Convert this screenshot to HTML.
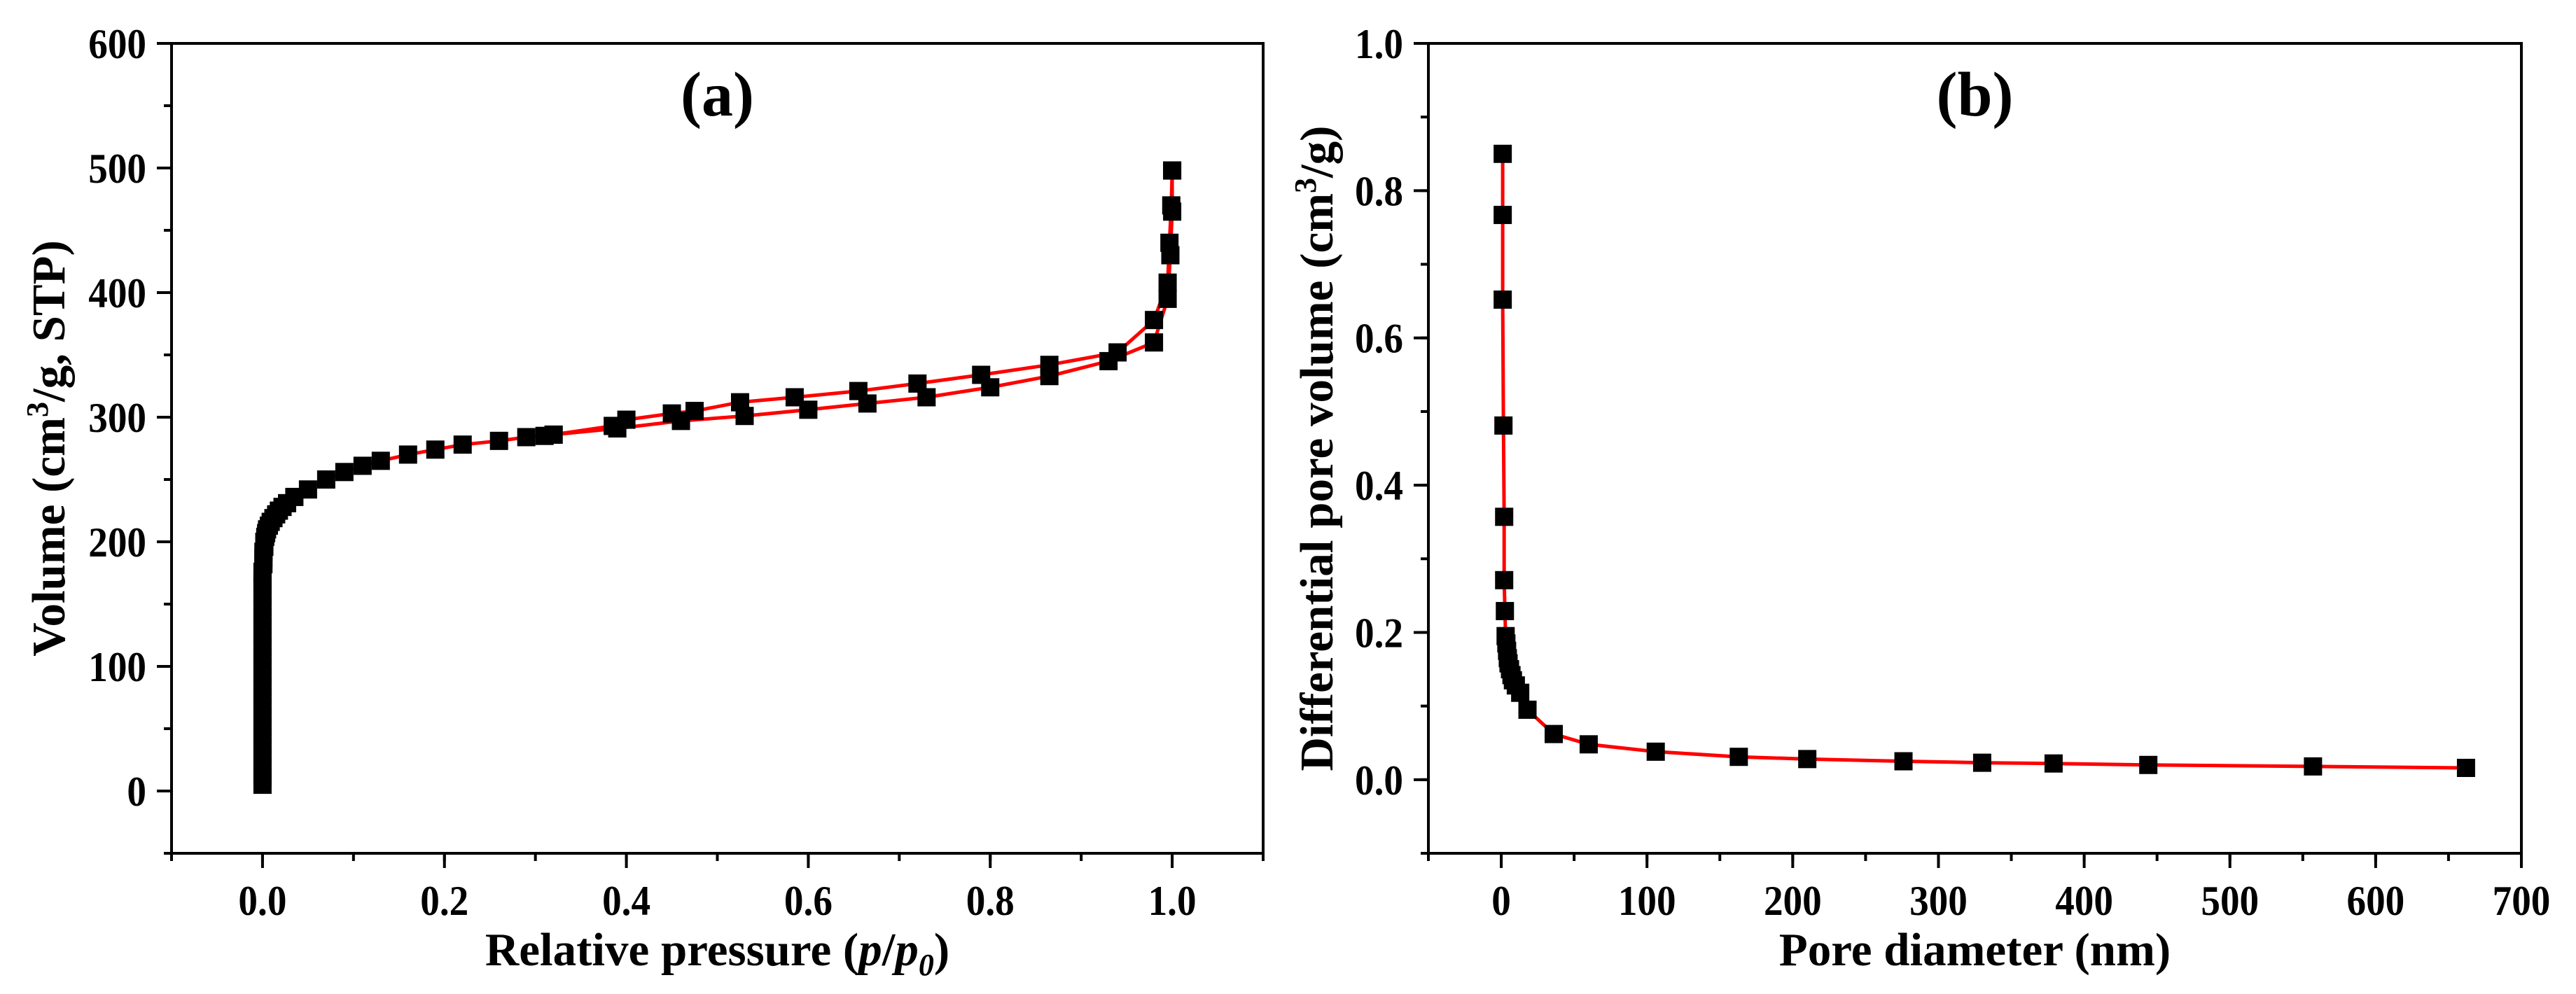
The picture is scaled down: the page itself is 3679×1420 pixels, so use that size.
<!DOCTYPE html>
<html><head><meta charset="utf-8"><style>
html,body{margin:0;padding:0;background:#fff;}
svg{display:block;font-family:"Liberation Serif",serif;font-weight:bold;}
</style></head><body>
<svg id="fig" width="3679" height="1420" viewBox="0 0 3679 1420" xmlns="http://www.w3.org/2000/svg"></svg>
<script>
// Panel (a) data
const adsX = [0,0,0,0,0,0,0,0,0,0,0,0,0,0,0,0,0,0,0,0,0,0,0,0.001,0.001,0.001,0.002,0.002,0.003,0.004,0.005,0.007,0.009,0.012,0.015,0.018,0.022,0.027,0.035,0.05,0.07,0.09,0.11,0.13,0.16,0.19,0.22,0.26,0.29,0.31,0.32,0.39,0.46,0.53,0.60,0.665,0.73,0.80,0.865,0.93,0.98,0.995,0.998,1.0,1.0];
const adsY = [5,12,20,28,36,44,52,60,68,76,84,92,100,108,116,124,132,140,148,156,164,170,176,182,187,192,196,200,204,207,210,213,216,219,222,225,228,231,236,242,250,256,261,265,270,274,278,281,284,285,286,291,297,301,306,311,316,324,333,345,360,395,430,465,498];
const desX = [1.0,0.999,0.997,0.995,0.98,0.94,0.865,0.79,0.72,0.655,0.585,0.525,0.475,0.45,0.40,0.385,0.32];
const desY = [498,470,440,408,378,352,342,334,327,321,316,312,305,303,298,293,286];
const aXTicks = [0,0.2,0.4,0.6,0.8,1.0];
const aXTickLabels = ["0.0","0.2","0.4","0.6","0.8","1.0"];
const aYTicks = [0,100,200,300,400,500,600];
// Panel (b) data
const bX = [1,1,1,1.5,2,2,2.5,3,3.5,4,4.5,5,6,7,8,10,13,18,36,60,106,163,210,276,330,379,444,557,662];
const bY = [0.850,0.767,0.652,0.481,0.357,0.271,0.229,0.195,0.185,0.175,0.165,0.158,0.150,0.142,0.135,0.128,0.118,0.095,0.062,0.048,0.038,0.031,0.028,0.025,0.023,0.022,0.020,0.018,0.016];
const bXTicks = [0,100,200,300,400,500,600,700];
const bYTicks = [0.0,0.2,0.4,0.6,0.8,1.0];
const bYTickLabels = ["0.0","0.2","0.4","0.6","0.8","1.0"];

const NS="http://www.w3.org/2000/svg";
const svg=document.getElementById('fig');
function el(tag,attrs,parent){const e=document.createElementNS(NS,tag);for(const k in attrs)e.setAttribute(k,attrs[k]);(parent||svg).appendChild(e);return e;}
function txt(parent,x,y,size,anchor,rot,sx){
  return el('text',{x:0,y:0,'font-size':size,'text-anchor':anchor,transform:`translate(${x} ${y}) rotate(${rot}) scale(${sx} 1)`},parent);
}

function panel(o){
  const g=el('g',{});
  
  
  const sx=v=>o.L+(v-o.x0)/(o.x1-o.x0)*(o.R-o.L);
  const sy=v=>o.B-(v-o.y0)/(o.y1-o.y0)*(o.B-o.T);
  for(let v=o.xmin0;v<=o.x1+1e-9;v+=o.xminStep){
    const t=el('line',{x1:sx(v),x2:sx(v),y1:o.B,y2:o.B+11,stroke:'#000','stroke-width':4},g);
    
  }
  for(let v=o.ymin0;v<=o.y1+1e-9;v+=o.yminStep){
    const t=el('line',{x1:o.L-11,x2:o.L,y1:sy(v),y2:sy(v),stroke:'#000','stroke-width':4},g);
    
  }
  o.xt.forEach((v,i)=>{
    const t=el('line',{x1:sx(v),x2:sx(v),y1:o.B,y2:o.B+21,stroke:'#000','stroke-width':4},g);
    
    const tx=txt(g,sx(v),o.B+88,60,'middle',0,0.92);
    tx.textContent=o.xl[i];
    
  });
  o.yt.forEach((v,i)=>{
    const t=el('line',{x1:o.L-21,x2:o.L,y1:sy(v),y2:sy(v),stroke:'#000','stroke-width':4},g);
    
    const tx=txt(g,o.L-36,sy(v)+21,60,'end',0,0.92);
    tx.textContent=o.yl[i];
    
  });
  const fr=el('rect',{x:o.L,y:o.T,width:o.R-o.L,height:o.B-o.T,fill:'none',stroke:'#000','stroke-width':4},g);
  
  o.series.forEach(s=>{
    const d=s.x.map((v,i)=>(i?'L':'M')+sx(v).toFixed(1)+' '+sy(s.y[i]).toFixed(1)).join(' ');
    const p=el('path',{d:d,fill:'none',stroke:'#ff0000','stroke-width':5},g);
    
  });
  o.series.forEach(s=>{
    s.x.forEach((v,i)=>{
      const m=el('rect',{x:sx(v)-13,y:sy(s.y[i])-13,width:26,height:26,fill:'#000'},g);
      
    });
  });
  const lab=txt(g,(o.L+o.R)/2,o.T+103,90,'middle',0,1);
  lab.textContent=o.label;
  const xt=txt(g,(o.L+o.R)/2,o.B+160,67,'middle',0,1);
  xt.innerHTML=o.xtitle;
  const cy=(o.T+o.B)/2;
  const yt=txt(g,o.ytx,cy,67,'middle',-90,1);
  yt.innerHTML=o.ytitle;
}

panel({name:'panel-a-isotherm',L:245,R:1804,T:62,B:1219,x0:-0.1,x1:1.1,y0:-50,y1:600,
  xmin0:-0.1,xminStep:0.1,ymin0:-50,yminStep:50,
  xt:aXTicks,xl:aXTickLabels,yt:aYTicks,yl:aYTicks.map(String),
  series:[{name:'adsorption',x:adsX,y:adsY},{name:'desorption',x:desX,y:desY}],
  label:'(a)',xtitle:'Relative pressure (<tspan font-style="italic">p</tspan>/<tspan font-style="italic">p</tspan><tspan font-style="italic" font-size="44" dy="14">0</tspan><tspan dy="-14">)</tspan>',
  ytitle:'Volume (cm<tspan font-size="44" dy="-24">3</tspan><tspan dy="24">/g, STP)</tspan>',ytx:92});
panel({name:'panel-b-pore-distribution',L:2040,R:3601,T:62,B:1219,x0:-50,x1:700,y0:-0.1,y1:1.0,
  xmin0:-50,xminStep:50,ymin0:-0.1,yminStep:0.1,
  xt:bXTicks,xl:bXTicks.map(String),yt:bYTicks,yl:bYTickLabels,
  series:[{name:'pore-volume',x:bX,y:bY}],
  label:'(b)',xtitle:'Pore diameter (nm)',
  ytitle:'Differential pore volume (cm<tspan font-size="44" dy="-24">3</tspan><tspan dy="24">/g)</tspan>',ytx:1903});
</script>
</body></html>
